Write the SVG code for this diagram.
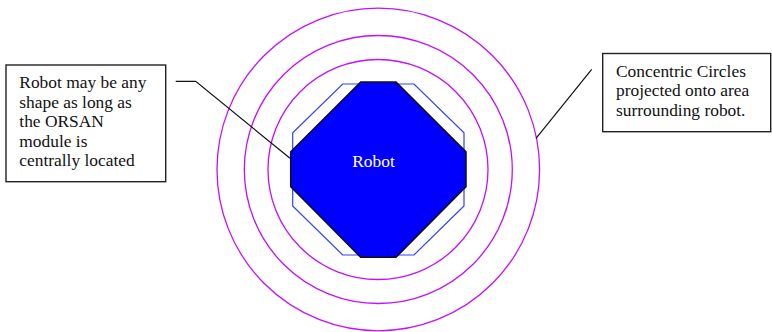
<svg xmlns="http://www.w3.org/2000/svg" width="772" height="332" viewBox="0 0 772 332">
<style>
.ring{fill:none;stroke:#c010ff;stroke-width:1.3}
.box{fill:#fff;stroke:#222;stroke-width:1.4}
.lead{fill:none;stroke:#111;stroke-width:1.2}
</style>
<rect width="772" height="332" fill="#fff"/>
<g id="rings">
<circle class="ring" cx="378.3" cy="169.5" r="161.3"/>
<circle class="ring" cx="378.3" cy="169.5" r="134"/>
<circle class="ring" cx="378" cy="169.5" r="110"/>
</g>
<g id="outline">
<polygon points="342.7,84 414,84 464,132.7 464,206 414,255 342.7,255 292.7,206 292.7,132.7" fill="none" stroke="#3040ff" stroke-width="1.2"/>
</g>
<g id="robot">
<polygon points="360.7,82 396,82 466,151.7 466,186.7 396,257.3 360.7,257.3 290.7,186.7 290.7,151.7" fill="#0000ff" stroke="#111" stroke-width="1.5"/>
<text x="373.5" y="166.7" text-anchor="middle" fill="#ffffff" font-family="Liberation Serif, DejaVu Serif, serif" font-size="17.4">Robot</text>
</g>
<g id="connectors">
<polyline class="lead" points="175.7,81.3 195.7,81.3 290,158.3"/>
<line class="lead" x1="591.7" y1="69.3" x2="536" y2="138.3"/>
</g>
<g id="left-note" font-family="Liberation Serif, DejaVu Serif, serif" font-size="17.4" fill="#111">
<rect class="box" x="6" y="65" width="159.7" height="116.7"/>
<text x="19.3" y="88.3">Robot may be any</text>
<text x="19.3" y="107.7">shape as long as</text>
<text x="19.3" y="127.1">the ORSAN</text>
<text x="19.3" y="146.5">module is</text>
<text x="19.3" y="165.9">centrally located</text>
</g>
<g id="right-note" font-family="Liberation Serif, DejaVu Serif, serif" font-size="17.4" fill="#111">
<rect class="box" x="602.7" y="53.5" width="168" height="78.2"/>
<text x="616" y="76.7">Concentric Circles</text>
<text x="616" y="96.3">projected onto area</text>
<text x="616" y="115.9">surrounding robot.</text>
</g>
</svg>
